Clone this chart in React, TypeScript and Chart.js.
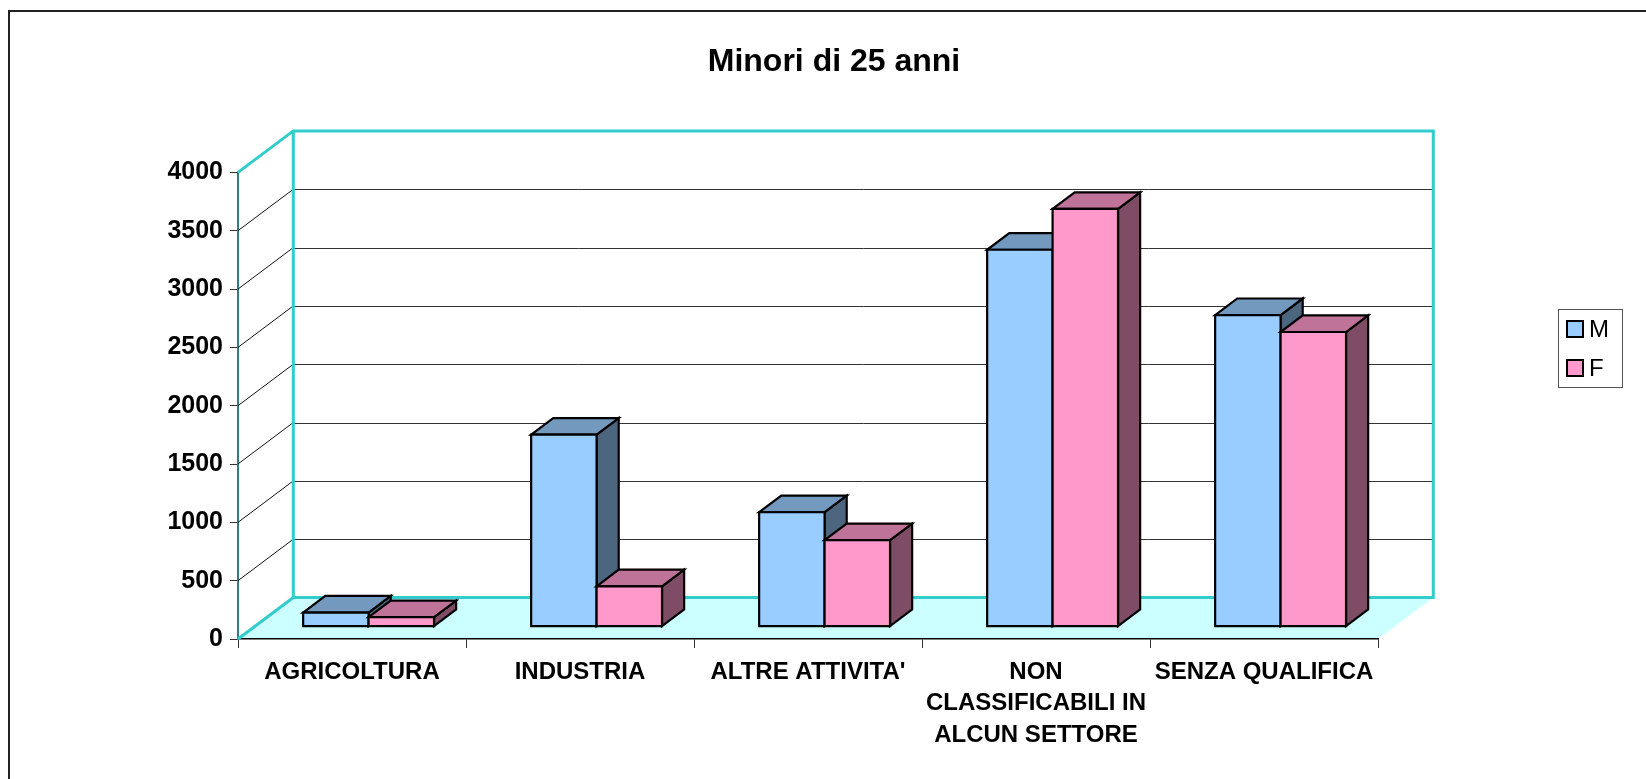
import React, { useEffect, useRef } from 'react';
import { Chart, registerables } from 'chart.js';

Chart.register(...registerables);

// ---- data ----
const TITLE = 'Minori di 25 anni';
const CATEGORIES: (string | string[])[] = [
  'AGRICOLTURA',
  'INDUSTRIA',
  "ALTRE ATTIVITA'",
  ['NON', 'CLASSIFICABILI IN', 'ALCUN SETTORE'],
  'SENZA QUALIFICA',
];
const SERIES_NAMES = ['M', 'F'];
const M_VALUES = [120, 1645, 980, 3230, 2670];
const F_VALUES = [80, 345, 740, 3580, 2525];
const Y_MIN = 0;
const Y_MAX = 4000;
const Y_STEP = 500;

// ---- styles ----
const FONT = "'Liberation Sans', Arial, Helvetica, sans-serif";
const FRONT = ['#99CCFF', '#FF99CC'];
const TOP = ['#7399BF', '#BF7399'];
const SIDE = ['#4C667F', '#7F4C66'];
const WALL = '#33CCCC';
const FLOOR = '#CCFFFF';
const DEPTH_X = 55.3;
const DEPTH_Y = 41.5;
const BAR_FRONT = 0.3;
const BAR_DEPTH = 0.4;

function poly(ctx: CanvasRenderingContext2D, pts: number[][], fill: string) {
  ctx.beginPath();
  ctx.moveTo(pts[0][0], pts[0][1]);
  for (let k = 1; k < pts.length; k++) ctx.lineTo(pts[k][0], pts[k][1]);
  ctx.closePath();
  ctx.fillStyle = fill;
  ctx.fill();
  ctx.stroke();
}

const threeD = {
  id: 'threeD',
  beforeDraw(chart: any) {
    const { ctx, chartArea: a, scales } = chart;
    const y0 = scales.y.getPixelForValue(Y_MIN);
    ctx.save();
    // outer frame
    ctx.fillStyle = '#222';
    ctx.fillRect(8, 10, 2, chart.height);
    ctx.fillRect(8, 10, chart.width, 2);
    // floor
    ctx.fillStyle = FLOOR;
    ctx.beginPath();
    ctx.moveTo(a.left, y0);
    ctx.lineTo(a.left + DEPTH_X, y0 - DEPTH_Y);
    ctx.lineTo(a.right + DEPTH_X, y0 - DEPTH_Y);
    ctx.lineTo(a.right, y0);
    ctx.closePath();
    ctx.fill();
    ctx.restore();
  },
  beforeDatasetsDraw(chart: any) {
    const { ctx, chartArea: a, scales } = chart;
    const ys = scales.y;
    const bl = a.left + DEPTH_X;
    const br = a.right + DEPTH_X;
    const yTop = ys.getPixelForValue(Y_MAX) - DEPTH_Y;
    const yBot = ys.getPixelForValue(Y_MIN) - DEPTH_Y;
    ctx.save();
    // back gridlines + diagonals
    for (let v = Y_MIN + Y_STEP; v < Y_MAX; v += Y_STEP) {
      const yf = ys.getPixelForValue(v);
      const yb = yf - DEPTH_Y;
      ctx.strokeStyle = '#333';
      ctx.lineWidth = 1;
      ctx.beginPath();
      ctx.moveTo(bl, Math.round(yb) + 0.5);
      ctx.lineTo(br, Math.round(yb) + 0.5);
      ctx.stroke();
      ctx.strokeStyle = '#111';
      ctx.beginPath();
      ctx.moveTo(a.left, yf);
      ctx.lineTo(bl, yb);
      ctx.stroke();
    }
    // turquoise wall edges
    ctx.strokeStyle = WALL;
    ctx.lineWidth = 3;
    ctx.lineJoin = 'miter';
    ctx.beginPath();
    ctx.moveTo(a.left, ys.getPixelForValue(Y_MAX));
    ctx.lineTo(bl, yTop);
    ctx.lineTo(br, yTop);
    ctx.lineTo(br, yBot);
    ctx.lineTo(bl, yBot);
    ctx.lineTo(a.left, ys.getPixelForValue(Y_MIN));
    ctx.moveTo(bl, yTop);
    ctx.lineTo(bl, yBot);
    ctx.stroke();
    ctx.restore();
  },
  beforeDatasetDraw() {
    return false;
  },
  afterDatasetsDraw(chart: any) {
    const ctx = chart.ctx;
    const n = chart.data.labels.length;
    const ox = DEPTH_X * BAR_FRONT;
    const oy = -DEPTH_Y * BAR_FRONT;
    const dx = DEPTH_X * BAR_DEPTH;
    const dy = -DEPTH_Y * BAR_DEPTH;
    ctx.save();
    ctx.lineWidth = 2.2;
    ctx.strokeStyle = '#000';
    ctx.lineJoin = 'miter';
    for (let j = 0; j < n; j++) {
      for (let i = 0; i < chart.data.datasets.length; i++) {
        const el = chart.getDatasetMeta(i).data[j];
        const l = el.x - el.width / 2 + ox;
        const r = el.x + el.width / 2 + ox;
        const t = el.y + oy;
        const b = el.base + oy;
        poly(ctx, [[r, t], [r + dx, t + dy], [r + dx, b + dy], [r, b]], SIDE[i]);
        poly(ctx, [[l, t], [r, t], [r + dx, t + dy], [l + dx, t + dy]], TOP[i]);
        poly(ctx, [[l, t], [r, t], [r, b], [l, b]], FRONT[i]);
      }
    }
    ctx.restore();
  },
  afterDraw(chart: any) {
    const ctx = chart.ctx;
    const left = chart.chartArea.right + 180;
    const top = 309;
    const w = 64;
    const h = 78;
    ctx.save();
    ctx.fillStyle = '#fff';
    ctx.fillRect(left, top, w, h);
    ctx.strokeStyle = '#555';
    ctx.lineWidth = 1;
    ctx.strokeRect(left + 0.5, top + 0.5, w, h);
    chart.data.datasets.forEach((ds: any, i: number) => {
      const sy = top + 12 + i * 39;
      ctx.fillStyle = FRONT[i];
      ctx.fillRect(left + 9, sy, 16, 16);
      ctx.strokeStyle = '#000';
      ctx.lineWidth = 2;
      ctx.strokeRect(left + 9, sy, 16, 16);
      ctx.fillStyle = '#000';
      ctx.font = `24px ${FONT}`;
      ctx.textBaseline = 'middle';
      ctx.textAlign = 'left';
      ctx.fillText(ds.label, left + 31, sy + 9);
    });
    ctx.restore();
  },
};

export default function App() {
  const ref = useRef<HTMLCanvasElement | null>(null);
  useEffect(() => {
    if (!ref.current) return;
    const chart = new Chart(ref.current, {
      type: 'bar',
      data: {
        labels: CATEGORIES as any,
        datasets: [
          { label: SERIES_NAMES[0], data: M_VALUES, backgroundColor: FRONT[0] },
          { label: SERIES_NAMES[1], data: F_VALUES, backgroundColor: FRONT[1] },
        ],
      },
      options: {
        animation: false,
        responsive: false,
        devicePixelRatio: 1,
        layout: { padding: { left: 22, right: 0, top: 0, bottom: 0 } },
        datasets: { bar: { categoryPercentage: 0.574, barPercentage: 1 } },
        plugins: {
          legend: { display: false },
          tooltip: { enabled: false },
          title: {
            display: true,
            text: TITLE,
            color: '#000',
            font: { family: FONT, size: 32, weight: 'bold' },
            padding: { top: 43, bottom: 91 },
          },
        },
        scales: {
          x: {
            type: 'category',
            offset: true,
            grid: {
              offset: true,
              drawOnChartArea: false,
              drawTicks: true,
              tickLength: 9,
              color: '#333',
              lineWidth: 1,
            },
            border: { display: true, color: '#000', width: 1.5 },
            ticks: {
              color: '#000',
              font: { family: FONT, size: 24, weight: 'bold', lineHeight: 1.3 },
              padding: 9,
              autoSkip: false,
              maxRotation: 0,
              minRotation: 0,
            },
            afterFit: (s: any) => {
              s.height = 140;
            },
          },
          y: {
            type: 'linear',
            position: 'left',
            min: Y_MIN,
            max: Y_MAX,
            grid: {
              drawOnChartArea: false,
              drawTicks: true,
              tickLength: 8,
              color: '#333',
              lineWidth: 1,
            },
            border: { display: true, color: '#2F7F7F', width: 2 },
            ticks: {
              stepSize: Y_STEP,
              color: '#000',
              font: { family: FONT, size: 25, weight: 'bold' },
              padding: 7,
              callback: (v: any) => String(v),
            },
            afterFit: (s: any) => {
              s.width = 216;
            },
          },
          legendSpace: {
            type: 'linear',
            position: 'right',
            display: true,
            grid: { display: false, drawTicks: false },
            border: { display: false },
            ticks: { display: false },
            afterFit: (s: any) => {
              s.width = 268;
            },
          },
        },
      } as any,
      plugins: [threeD as any],
    });
    return () => chart.destroy();
  }, []);
  return (
    <div style={{ position: 'absolute', left: 0, top: 0, width: 1646, height: 779 }}>
      <canvas ref={ref} width={1646} height={779} style={{ display: 'block' }} />
    </div>
  );
}
